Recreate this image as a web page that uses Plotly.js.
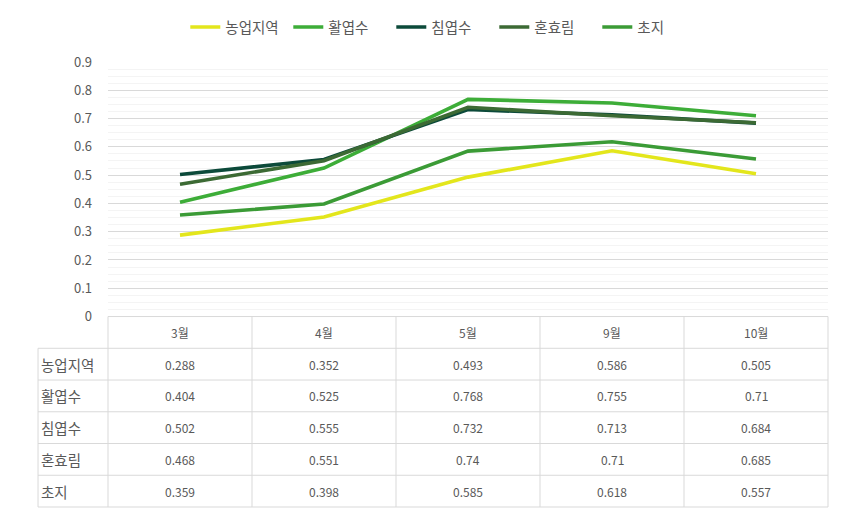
<!DOCTYPE html>
<html>
<head>
<meta charset="utf-8">
<script src="https://cdn.plot.ly/plotly-3.0.1.min.js"></script>
<style>html,body{margin:0;padding:0;background:#fff;}#chart{width:841px;height:525px;}</style>
</head>
<body>
<div id="chart"></div>
<script>
var months = ['3월', '4월', '5월', '9월', '10월'];
var seriesNames = ['농업지역', '활엽수', '침엽수', '혼효림', '초지'];
var agri = [0.288, 0.352, 0.493, 0.586, 0.505];
var broadleaf = [0.404, 0.525, 0.768, 0.755, 0.71];
var conifer = [0.502, 0.555, 0.732, 0.713, 0.684];
var mixed = [0.468, 0.551, 0.74, 0.71, 0.685];
var grass = [0.359, 0.398, 0.585, 0.618, 0.557];
var yTicks = [0, 0.1, 0.2, 0.3, 0.4, 0.5, 0.6, 0.7, 0.8, 0.9];

var seriesValues = [agri, broadleaf, conifer, mixed, grass];
var colors = ['#e3e61c', '#3dad38', '#0c4a3a', '#3c6a34', '#3b9b36'];
var FONT = '"Noto Sans CJK KR", "Malgun Gothic", "Noto Sans", sans-serif';
var TXT = '#595959';

var traces = seriesNames.map(function (n, i) {
  return {
    type: 'scatter', mode: 'lines', name: n,
    x: months, y: seriesValues[i],
    line: {color: colors[i], width: 3.6},
    xaxis: 'x', yaxis: 'y'
  };
});

var D = 0.428;          // fraction of plot height used by the table
var rowH = D / 6;
var labelLeft = -0.0972;
var gridC = '#d9d9d9';

var shapes = [];
for (var r = 0; r <= 6; r++) {
  var yy = D - r * rowH;
  shapes.push({type: 'line', xref: 'paper', yref: 'paper',
    x0: r === 0 ? 0 : labelLeft, x1: 1, y0: yy, y1: yy,
    line: {color: gridC, width: 1}});
}
for (var c = 0; c <= months.length; c++) {
  var xx = c / months.length;
  shapes.push({type: 'line', xref: 'paper', yref: 'paper',
    x0: xx, x1: xx, y0: 0, y1: D, line: {color: gridC, width: 1}});
}
shapes.push({type: 'line', xref: 'paper', yref: 'paper',
  x0: labelLeft, x1: labelLeft, y0: 0, y1: D - rowH, line: {color: gridC, width: 1}});

var annotations = [];
months.forEach(function (m) {
  annotations.push({xref: 'x', yref: 'paper', x: m, y: D - 0.5 * rowH,
    xanchor: 'center', yanchor: 'middle',
    text: m, showarrow: false, font: {family: FONT, size: 12, color: TXT}});
});
seriesNames.forEach(function (n, i) {
  var yc = D - (i + 1.5) * rowH;
  annotations.push({xref: 'paper', yref: 'paper', x: labelLeft + 0.001, y: yc,
    xanchor: 'left', yanchor: 'middle', text: n, showarrow: false,
    font: {family: FONT, size: 14.5, color: TXT}});
  months.forEach(function (m, j) {
    annotations.push({xref: 'x', yref: 'paper', x: m, y: yc,
      xanchor: 'center', yanchor: 'middle',
      text: String(seriesValues[i][j]), showarrow: false,
      font: {family: FONT, size: 12, color: TXT}});
  });
});

var layout = {
  width: 841, height: 525,
  margin: {l: 108, r: 13, t: 61, b: 18},
  paper_bgcolor: '#ffffff', plot_bgcolor: '#ffffff',
  font: {family: FONT, color: TXT, size: 12},
  showlegend: true,
  legend: {orientation: 'h', x: 0.465, xanchor: 'center', y: 1.076, yanchor: 'middle',
    font: {family: FONT, size: 14.5, color: TXT}, itemwidth: 30, tracegroupgap: 0,
    entrywidth: 58, entrywidthmode: 'pixels'},
  xaxis: {type: 'category', range: [-0.5, 4.5], showticklabels: false,
    showgrid: false, zeroline: false, showline: false, ticks: '', fixedrange: true},
  yaxis: {domain: [D, 1], range: [0, 0.9], tickvals: yTicks,
    ticktext: yTicks.map(String), showgrid: true, gridcolor: gridC, gridwidth: 1,
    zeroline: false, showline: false, ticks: '', ticklabelstandoff: 15,
    tickfont: {family: FONT, size: 13, color: TXT},
    minor: {dtick: 0.025, showgrid: true, gridcolor: '#f4f4f4', gridwidth: 1},
    fixedrange: true},
  shapes: shapes,
  annotations: annotations
};

Plotly.newPlot('chart', traces, layout, {displayModeBar: false, staticPlot: true});
</script>
</body>
</html>
